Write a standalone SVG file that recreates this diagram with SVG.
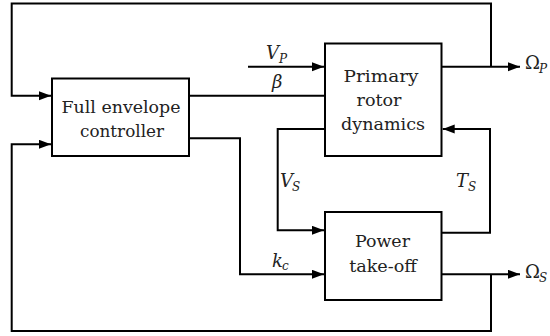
<svg xmlns="http://www.w3.org/2000/svg" width="550" height="336" viewBox="0 0 550 336">
<style>
.box{fill:#fff;stroke:#000;stroke-width:2}
.lbl{font-family:"DejaVu Serif","Liberation Serif",serif;font-size:17px;fill:#222;text-anchor:middle}
.m{font-family:"DejaVu Serif","Liberation Serif",serif;font-size:18px;font-style:italic;fill:#222}
.s{font-family:"DejaVu Serif","Liberation Serif",serif;font-size:12px;font-style:italic;fill:#222}
.u{font-family:"DejaVu Serif","Liberation Serif",serif;font-size:18px;fill:#222}
.c{fill:none;stroke:#000;stroke-width:2}
</style>
<defs>
<marker id="ah" markerUnits="userSpaceOnUse" markerWidth="13" markerHeight="10" refX="12" refY="4.5" orient="auto">
<path d="M0,0 L12,4.5 L0,9 z" fill="#000"/>
</marker>
</defs>
<g id="connectors">
<path class="c" d="M491,66.7 V3.5 H11.7 V95.7 H51" marker-end="url(#ah)"/>
<path class="c" d="M248,66.7 H324" marker-end="url(#ah)"/>
<path class="c" d="M441.7,66.7 H520" marker-end="url(#ah)"/>
<path class="c" d="M189,95.7 H325"/>
<path class="c" d="M325,129 H277.7 V230.3 H324" marker-end="url(#ah)"/>
<path class="c" d="M441.7,232.7 H490 V129 H442.7" marker-end="url(#ah)"/>
<path class="c" d="M189,138.3 H240 V274.3 H324" marker-end="url(#ah)"/>
<path class="c" d="M441.7,274.3 H520" marker-end="url(#ah)"/>
<path class="c" d="M491,274.3 V331 H11.7 V144.3 H51" marker-end="url(#ah)"/>
<text class="m" x="266" y="59">V</text><text class="s" x="279" y="63">P</text>
<text class="m" x="272" y="88">β</text>
<text class="u" x="525" y="69">Ω</text><text class="s" x="539" y="73">P</text>
<text class="m" x="280" y="187">V</text><text class="s" x="292" y="191">S</text>
<text class="m" x="456" y="187">T</text><text class="s" x="468" y="191">S</text>
<text class="m" x="272" y="267">k</text><text class="s" x="282" y="270">c</text>
<text class="u" x="525" y="278">Ω</text><text class="s" x="539" y="282">S</text>
</g>
<g id="controller">
<rect class="box" x="52" y="78.5" width="137" height="77.5"/>
<text class="lbl" x="121" y="112.5" textLength="119" lengthAdjust="spacingAndGlyphs">Full envelope</text>
<text class="lbl" x="122" y="137" textLength="84" lengthAdjust="spacingAndGlyphs">controller</text>
</g>
<g id="primary">
<rect class="box" x="325" y="43.5" width="116.5" height="112.5"/>
<text class="lbl" x="381" y="82" textLength="75" lengthAdjust="spacingAndGlyphs">Primary</text>
<text class="lbl" x="379" y="106" textLength="45" lengthAdjust="spacingAndGlyphs">rotor</text>
<text class="lbl" x="383" y="130" textLength="84" lengthAdjust="spacingAndGlyphs">dynamics</text>
</g>
<g id="pto">
<rect class="box" x="325" y="212" width="116.5" height="88"/>
<text class="lbl" x="382.5" y="247" textLength="55" lengthAdjust="spacingAndGlyphs">Power</text>
<text class="lbl" x="383" y="272" textLength="67.7" lengthAdjust="spacingAndGlyphs">take-off</text>
</g>
</svg>
